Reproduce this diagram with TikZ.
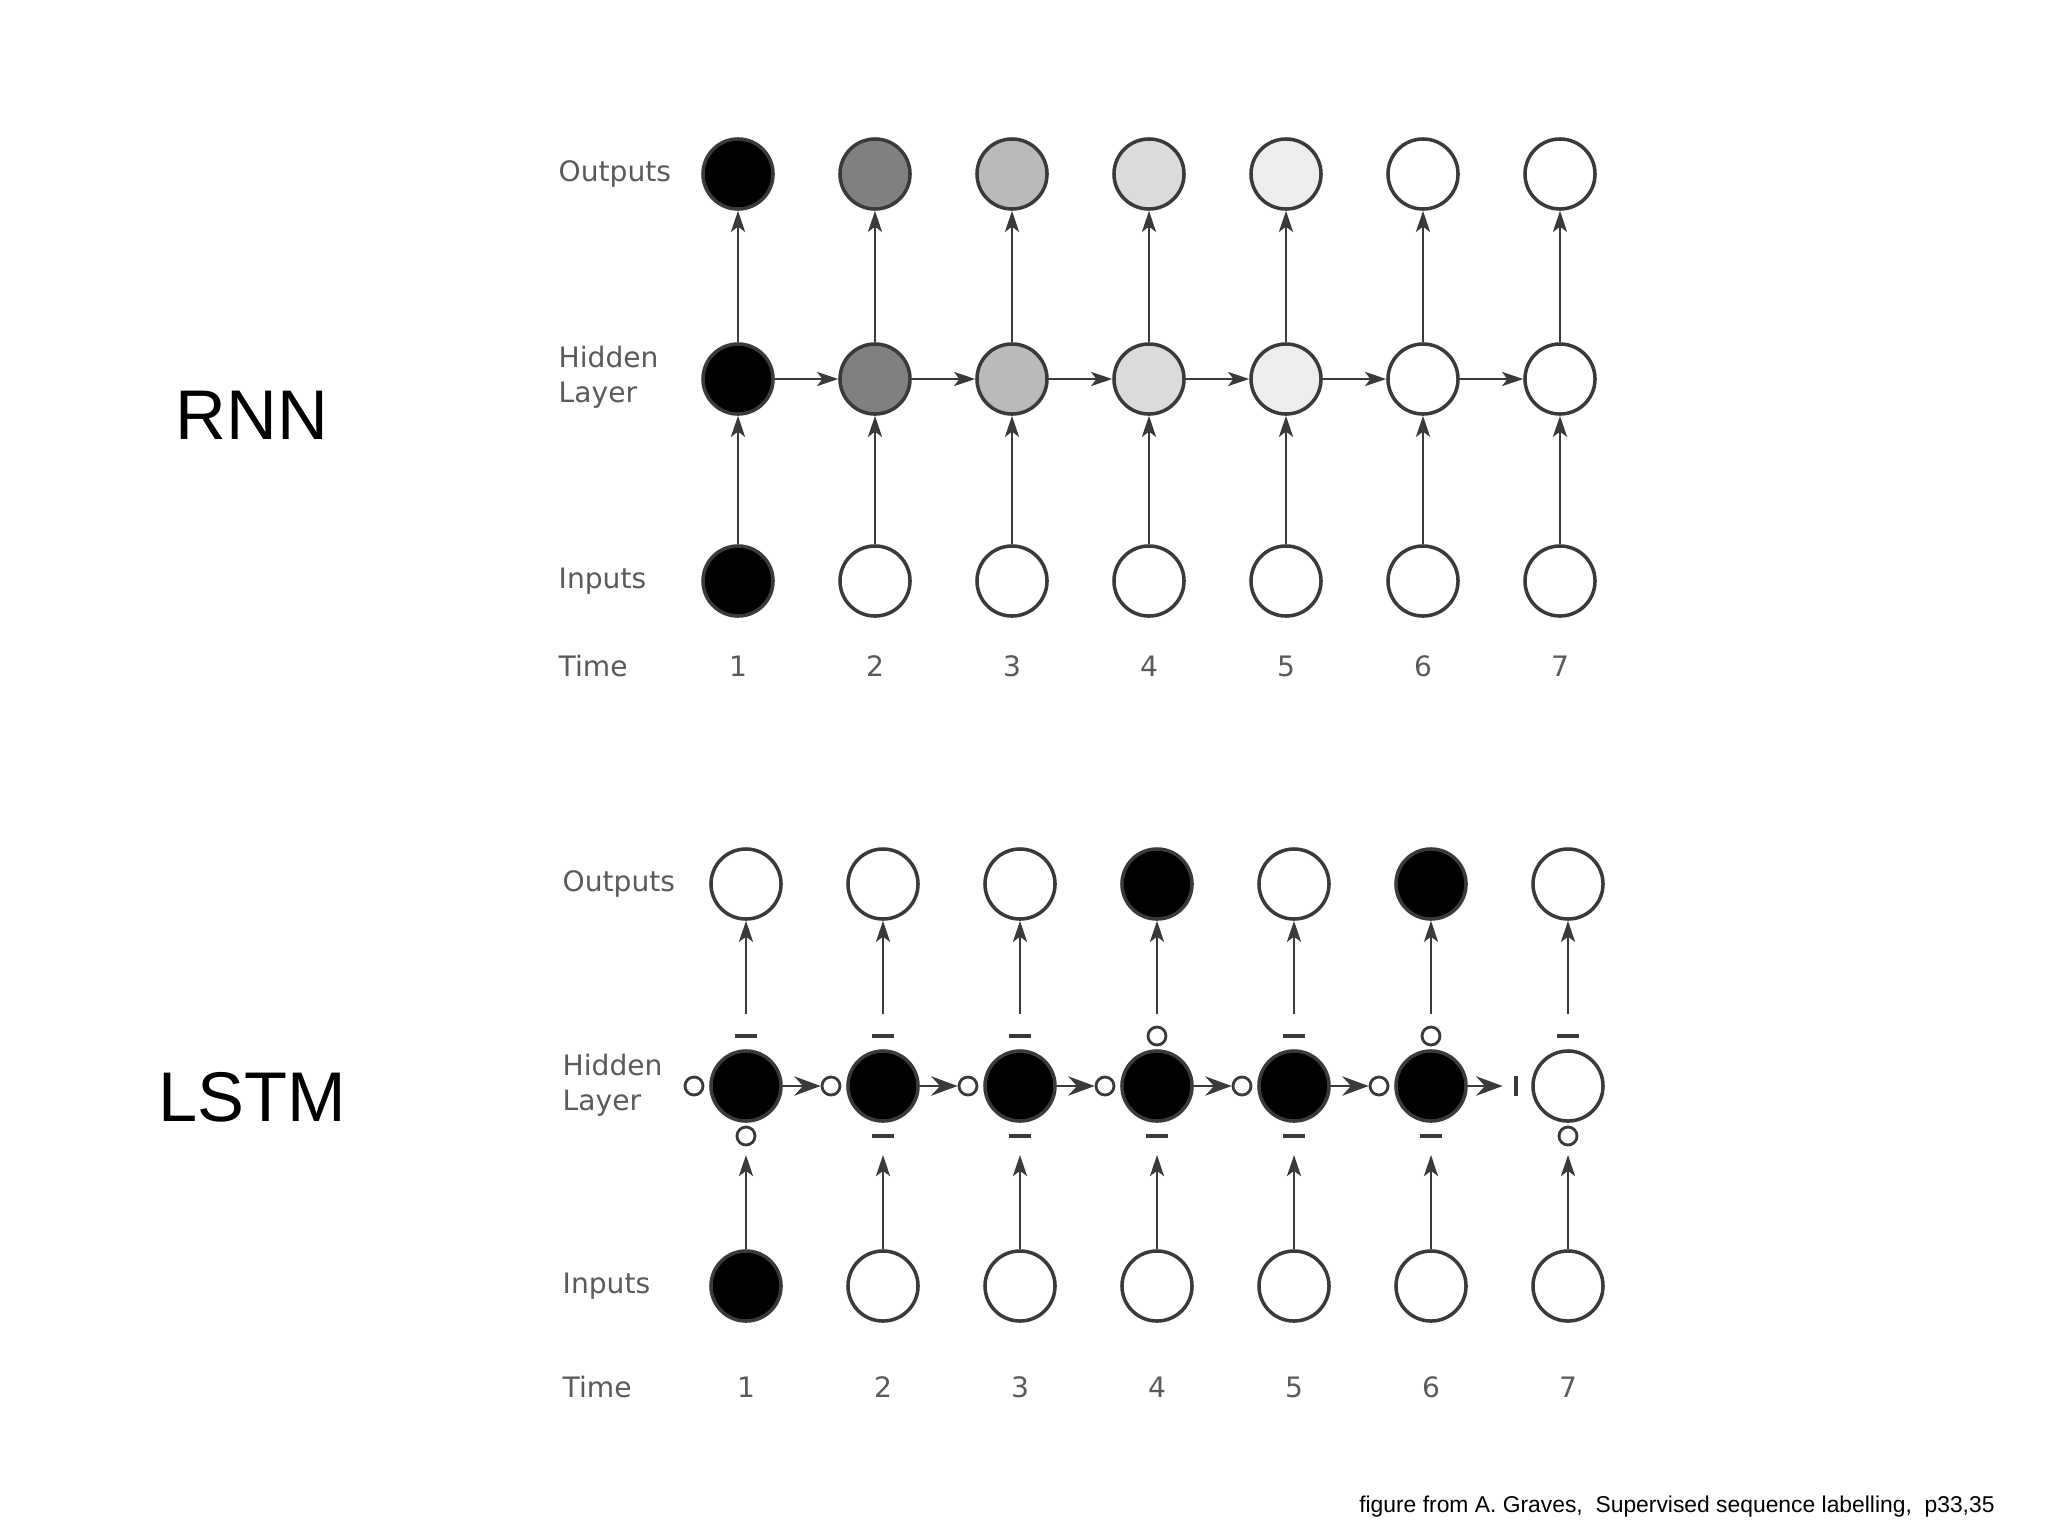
\documentclass[tikz,border=0pt]{standalone}
\usepackage{fontspec}
\setmainfont{DejaVu Sans}
\newfontfamily\slidefont{Liberation Sans}
\usetikzlibrary{arrows.meta}

\definecolor{labelgray}{HTML}{5A5A5A}
\definecolor{rimgray}{HTML}{3A3A3A}

\tikzset{
  unit/.style={circle, draw=rimgray, line width=1pt, minimum size=0.7cm, inner sep=0pt},
  gate-o/.style={circle, draw=rimgray, line width=0.8pt, minimum size=0.18cm, inner sep=0pt},
  gate-d/.style={rectangle, fill=rimgray, minimum width=0.22cm, minimum height=0.035cm, inner sep=0pt},
  gate-v/.style={rectangle, fill=rimgray, minimum width=0.035cm, minimum height=0.2cm, inner sep=0pt},
  rowlabel/.style={anchor=west, inner sep=0pt, text=labelgray, align=left, font=\fontsize{8}{10}\selectfont},
  timelabel/.style={text=labelgray, font=\fontsize{8}{10}\selectfont},
  netname/.style={font=\slidefont\fontsize{20}{24}\selectfont},
  flow/.style={draw=rimgray, line width=0.75pt, -{Stealth[length=6pt, width=4pt, inset=1.5pt]}},
  carry/.style={draw=rimgray, line width=0.75pt, -{Stealth[length=7.5pt, width=5.5pt, inset=2.5pt]}},
}

\begin{document}
\begin{tikzpicture}[x=0.01cm, y=-0.01cm]
\useasboundingbox (0,0) rectangle (2048,1536);
\fill[white] (0,0) rectangle (2048,1536);

% RNN
\node[netname] (rnn) at (252,415) {RNN};
\node[rowlabel] (rout) at (558,174) {Outputs};
\node[rowlabel] (rhid) at (558,377) {Hidden\\Layer};
\node[rowlabel] (rinp) at (558,581) {Inputs};
\node[rowlabel] (rtime) at (558,666) {Time};
\foreach \i/\tone/\intone in {1/black/black, 2/black!50/white, 3/black!27/white,
    4/black!14/white, 5/black!7/white, 6/white/white, 7/white/white} {
  \pgfmathsetmacro{\xx}{738+137*(\i-1)}
  \node[unit, fill=\intone] (ri\i) at (\xx,581) {};
  \node[unit, fill=\tone] (rh\i) at (\xx,379) {};
  \node[unit, fill=\tone] (ro\i) at (\xx,174) {};
  \node[timelabel] (rtm\i) at (\xx,666) {\i};
  \draw[flow] (ri\i) -- (rh\i);
  \draw[flow] (rh\i) -- (ro\i);
}
\foreach \i [count=\j from 2] in {1,...,6}
  \draw[flow] (rh\i) -- (rh\j);

% LSTM
\node[netname] (lstm) at (252,1097) {LSTM};
\node[rowlabel] (lout) at (562,884) {Outputs};
\node[rowlabel] (lhid) at (562,1085) {Hidden\\Layer};
\node[rowlabel] (linp) at (562,1286) {Inputs};
\node[rowlabel] (ltime) at (562,1387) {Time};
\foreach \i/\tg/\lg/\bg/\hidfill/\outfill/\infill in {
    1/d/o/o/black/white/black, 2/d/o/d/black/white/white, 3/d/o/d/black/white/white,
    4/o/o/d/black/black/white, 5/d/o/d/black/white/white, 6/o/o/d/black/black/white,
    7/d/v/o/white/white/white} {
  \pgfmathsetmacro{\xx}{746+137*(\i-1)}
  \node[unit, fill=\infill] (li\i) at (\xx,1286) {};
  \node[unit, fill=\hidfill] (lh\i) at (\xx,1086) {};
  \node[unit, fill=\outfill] (lo\i) at (\xx,884) {};
  \node[gate-\tg] (lt\i) at (\xx,1036) {};
  \node[gate-\bg] (lb\i) at (\xx,1136) {};
  \node[gate-\lg] (ll\i) at (\xx-52,1086) {};
  \coordinate (lin\i) at (\xx,1155);
  \coordinate (lup\i) at (\xx,1014);
  \node[timelabel] (ltm\i) at (\xx,1387) {\i};
  \draw[flow] (li\i) -- (lin\i);
  \draw[flow] (lup\i) -- (lo\i);
}
\foreach \i [count=\j from 2] in {1,...,5}
  \draw[carry] (lh\i) -- (ll\j);
\draw[carry, shorten >=0.11cm] (lh6) -- (ll7);

\node[anchor=east, font=\slidefont\fontsize{6.5}{8}\selectfont] (credit) at (2007,1507)
  {figure from A. Graves,\ \ Supervised sequence labelling,\ \ p33,35};
\end{tikzpicture}
\end{document}
